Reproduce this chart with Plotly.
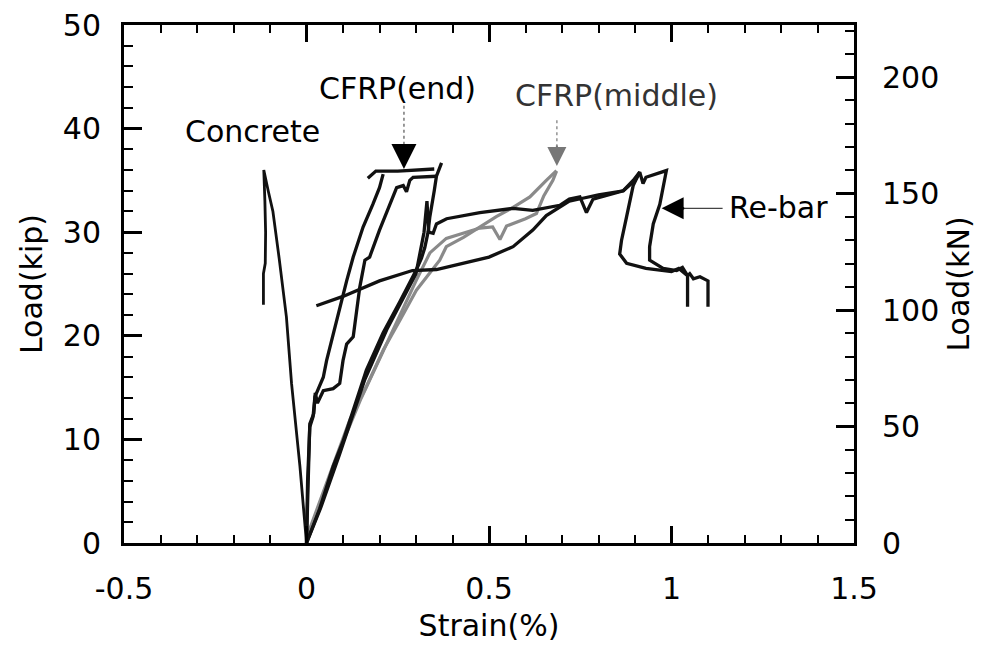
import plotly.graph_objects as go

# ---------------- data (strain %, load kip) ----------------
concrete_x = [-0.118, -0.118, -0.113, -0.112, -0.114, -0.117, -0.105, -0.092, -0.075, -0.055, -0.041, -0.018, 0.0]
concrete_y = [23.0, 26.0, 27.0, 30.0, 33.0, 36.0, 34.0, 32.0, 27.5, 21.8, 15.4, 7.4, 0.0]

cfrp_end_a_x = [0.0, 0.003, 0.009, 0.018, 0.023, 0.046, 0.055, 0.073, 0.091, 0.110, 0.128, 0.155, 0.182, 0.200, 0.210]
cfrp_end_a_y = [0.0, 6.0, 11.2, 12.2, 14.1, 16.0, 17.6, 20.2, 22.5, 25.3, 27.6, 30.5, 32.7, 34.3, 35.6]

cfrp_end_cap_x = [0.168, 0.190, 0.250, 0.300, 0.350]
cfrp_end_cap_y = [35.2, 35.9, 35.9, 36.0, 36.1]

cfrp_end_b_x = [0.0, 0.009, 0.020, 0.024, 0.030, 0.046, 0.073, 0.091, 0.100, 0.110, 0.128, 0.137, 0.146, 0.160,
                0.173, 0.200, 0.228, 0.247, 0.265, 0.274, 0.283, 0.292, 0.356]
cfrp_end_b_y = [0.0, 11.5, 12.5, 14.5, 13.5, 14.7, 14.9, 15.4, 17.6, 19.2, 19.9, 22.5, 24.7, 27.3,
                27.6, 30.2, 32.7, 34.3, 34.5, 33.9, 35.0, 35.3, 35.4]

cfrp_end_c_x = [0.0, 0.036, 0.073, 0.100, 0.164, 0.210, 0.256, 0.300, 0.315, 0.324, 0.333, 0.338, 0.350, 0.356, 0.370]
cfrp_end_c_y = [0.0, 3.3, 7.4, 9.8, 16.7, 20.3, 23.3, 26.3, 27.5, 28.5, 30.0, 31.5, 34.0, 35.4, 36.7]

rebar_a_x = [0.0, 0.040, 0.090, 0.160, 0.220, 0.270, 0.300, 0.322, 0.330, 0.335, 0.347, 0.356, 0.384, 0.475,
             0.566, 0.620, 0.694, 0.720, 0.749, 0.767, 0.785, 0.868, 0.900, 0.913, 0.922, 0.930, 0.986,
             0.968, 0.950, 0.940, 0.940, 0.977, 1.014, 1.030, 1.044, 1.050, 1.060, 1.078, 1.100, 1.100]
rebar_a_y = [0.0, 3.5, 8.5, 15.8, 20.6, 24.0, 26.0, 30.0, 33.0, 30.0, 29.9, 30.8, 31.3, 31.9,
             32.3, 32.1, 32.6, 33.2, 33.4, 31.9, 33.2, 34.0, 35.0, 35.8, 34.7, 35.3, 35.95,
             32.7, 30.8, 28.6, 27.3, 26.5, 26.3, 26.6, 25.8, 26.0, 25.5, 25.7, 25.3, 22.8]

rebar_b_x = [0.027, 0.100, 0.200, 0.290, 0.356, 0.430, 0.500, 0.566, 0.620, 0.657, 0.694, 0.720, 0.760, 0.800,
             0.868, 0.895, 0.913, 0.895, 0.877, 0.863, 0.858, 0.877, 0.930, 1.000, 1.020, 1.044, 1.044]
rebar_b_y = [22.9, 23.8, 25.3, 26.3, 26.4, 27.0, 27.6, 28.6, 30.2, 31.6, 32.4, 33.0, 33.3, 33.6,
             34.0, 35.0, 35.8, 34.5, 31.5, 29.2, 27.9, 27.0, 26.5, 26.2, 26.5, 25.8, 22.8]

cfrp_mid_a_x = [0.004, 0.073, 0.119, 0.164, 0.210, 0.256, 0.301, 0.365, 0.383, 0.430, 0.475, 0.520, 0.566, 0.612, 0.657, 0.685]
cfrp_mid_a_y = [0.9, 7.4, 11.9, 15.1, 18.6, 21.5, 24.4, 27.3, 28.6, 29.5, 30.5, 31.5, 32.4, 33.4, 35.0, 35.95]

cfrp_mid_b_x = [0.006, 0.091, 0.150, 0.200, 0.250, 0.300, 0.338, 0.383, 0.475, 0.510, 0.530, 0.548, 0.600, 0.630, 0.650, 0.675, 0.685]
cfrp_mid_b_y = [0.8, 9.0, 14.0, 17.8, 21.5, 25.3, 28.0, 29.4, 30.4, 30.5, 29.3, 30.6, 31.3, 31.8, 33.5, 35.0, 35.9]

x_tickvals = [-0.5, 0, 0.5, 1, 1.5]
x_ticktext = ["-0.5", "0", "0.5", "1", "1.5"]
y_tickvals = [0, 10, 20, 30, 40, 50]
y2_tickvals = [0, 50, 100, 150, 200]
KIP_TO_KN = 4.448222

FONT = "DejaVu Sans"
FS = 30
BLACK = "#111111"
GREY = "#8a8a8a"

fig = go.Figure()

def add(x, y, color, width):
    fig.add_trace(go.Scatter(x=x, y=y, mode="lines", line=dict(color=color, width=width),
                             showlegend=False, hoverinfo="skip"))

add(concrete_x, concrete_y, BLACK, 2.8)
add(cfrp_mid_a_x, cfrp_mid_a_y, GREY, 3.2)
add(cfrp_mid_b_x, cfrp_mid_b_y, GREY, 3.2)
add(cfrp_end_a_x, cfrp_end_a_y, BLACK, 3.3)
add(cfrp_end_cap_x, cfrp_end_cap_y, BLACK, 3.3)
add(cfrp_end_b_x, cfrp_end_b_y, BLACK, 3.3)
add(cfrp_end_c_x, cfrp_end_c_y, BLACK, 3.3)
add(rebar_a_x, rebar_a_y, BLACK, 3.3)
add(rebar_b_x, rebar_b_y, BLACK, 3.3)

# invisible trace to anchor the kN axis
fig.add_trace(go.Scatter(x=[None], y=[None], yaxis="y2", showlegend=False, hoverinfo="skip"))

axis_common = dict(showline=True, linecolor="black", linewidth=3, ticks="inside",
                   tickcolor="black", tickwidth=2.5, showgrid=False, zeroline=False,
                   tickfont=dict(family=FONT, size=FS, color="black"))

fig.update_layout(
    width=989, height=646,
    margin=dict(l=124, r=135, t=25, b=103, autoexpand=False),
    paper_bgcolor="white", plot_bgcolor="white",
    font=dict(family=FONT, size=FS, color="black"),
    xaxis=dict(range=[-0.5, 1.5], tickmode="array", tickvals=x_tickvals, ticktext=x_ticktext,
               ticklen=17, mirror="ticks", ticklabelstandoff=17,
               minor=dict(ticks="inside", ticklen=8, dtick=0.1, tick0=0, tickcolor="black", tickwidth=2),
               title=dict(text="Strain(%)", font=dict(family=FONT, size=FS), standoff=10),
               **axis_common),
    yaxis=dict(range=[0, 50], tickmode="array", tickvals=y_tickvals, ticklen=18, ticklabelstandoff=14,
               minor=dict(ticks="inside", ticklen=9, dtick=2, tick0=0, tickcolor="black", tickwidth=2),
               title=dict(text="Load(kip)", font=dict(family=FONT, size=FS), standoff=12),
               **axis_common),
    yaxis2=dict(range=[0, 50 * KIP_TO_KN], overlaying="y", side="right", anchor="x",
                tickmode="array", tickvals=y2_tickvals, ticklen=18, ticklabelstandoff=19,
                minor=dict(ticks="inside", ticklen=9, dtick=10, tick0=0, tickcolor="black", tickwidth=2),
                title=dict(text="Load(kN)", font=dict(family=FONT, size=FS), standoff=10),
                **axis_common),
)

# labels
labels = [
    ("Concrete", -0.147, 39.7, "black"),
    ("CFRP(end)", 0.25, 43.9, "black"),
    ("CFRP(middle)", 0.848, 43.2, "#333333"),
    ("Re-bar", 1.294, 32.4, "black"),
]
for txt, lx, ly, col in labels:
    fig.add_annotation(x=lx, y=ly, xref="x", yref="y", text=txt, showarrow=False,
                       font=dict(family=FONT, size=FS, color=col), xanchor="center", yanchor="middle")

# arrow stems (dotted) and heads
fig.add_shape(type="line", xref="x", yref="y", x0=0.267, x1=0.267, y0=42.2, y1=37.5,
              line=dict(color="#555555", width=1.2, dash="dot"))
fig.add_annotation(x=0.267, y=36.1, xref="x", yref="y", ax=0, ay=-24, text="", showarrow=True,
                   arrowhead=2, arrowsize=2.0, arrowwidth=2.5, arrowcolor="black")
fig.add_shape(type="line", xref="x", yref="y", x0=0.686, x1=0.686, y0=40.8, y1=37.8,
              line=dict(color="#777777", width=1.2, dash="dot"))
fig.add_annotation(x=0.686, y=36.4, xref="x", yref="y", ax=0, ay=-22, text="", showarrow=True,
                   arrowhead=2, arrowsize=1.9, arrowwidth=2, arrowcolor="#777777")
fig.add_shape(type="line", xref="x", yref="y", x0=1.03, x1=1.14, y0=32.3, y1=32.3,
              line=dict(color="#444444", width=1.2))
fig.add_annotation(x=0.973, y=32.3, xref="x", yref="y", ax=24, ay=0, text="", showarrow=True,
                   arrowhead=2, arrowsize=2.0, arrowwidth=2.2, arrowcolor="black")

fig.write_html("out.html")
